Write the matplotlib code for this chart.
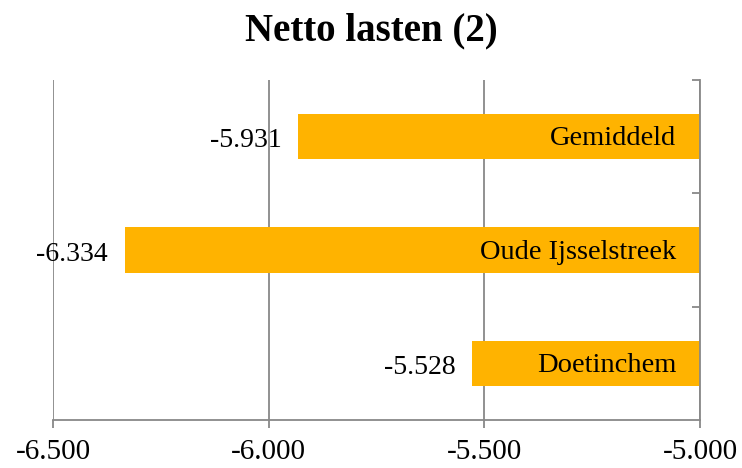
import matplotlib.pyplot as plt
import numpy as np

# data
categories = ["Gemiddeld", "Oude Ijsselstreek", "Doetinchem"]
values = [-5931, -6334, -5528]
value_labels = ["-5.931", "-6.334", "-5.528"]
xticks = [-6500, -6000, -5500, -5000]
xtick_labels = ["-6.500", "-6.000", "-5.500", "-5.000"]

base = -5000
bar_color = "#FFB300"
grey = "#888888"

plt.rcParams["font.family"] = ["Liberation Serif", "DejaVu Serif"]

fig = plt.figure(figsize=(7.42, 4.68), dpi=100)
ax = fig.add_axes([53 / 742, 1 - 420 / 468, 647 / 742, 340 / 468])

y = np.arange(len(categories))[::-1]
vals = np.array(values)
ax.barh(y, vals - base, left=base, height=0.4, color=bar_color, zorder=2)

for yi, v, lab, cat in zip(y, vals, value_labels, categories):
    ax.annotate(lab, (v, yi), xytext=(-12, -3), textcoords="offset points",
                ha="right", va="center", fontsize=20, zorder=3)
    ax.annotate(cat, (base, yi), xytext=(-17, -1.5), textcoords="offset points",
                ha="right", va="center", fontsize=20.5, zorder=3)

ax.set_xlim(-6500, -5000)
ax.set_ylim(-0.5, 2.5)
ax.set_xticks(xticks)
ax.set_xticklabels(xtick_labels, fontsize=21)
ax.grid(axis="x", color=grey, linewidth=1.3, zorder=0)
ax.set_axisbelow(True)

ax.yaxis.tick_right()
ax.set_yticks([0.5, 1.5, 2.5])
ax.set_yticklabels([])
ax.tick_params(axis="y", direction="in", length=6, color=grey, width=1.3)
ax.tick_params(axis="x", direction="out", length=6, color=grey, width=1.3, pad=8)

for s in ["left", "top"]:
    ax.spines[s].set_visible(False)
for s in ["right", "bottom"]:
    ax.spines[s].set_color(grey)
    ax.spines[s].set_linewidth(1.3)

fig.text(0.5, 1 - 31 / 468, "Netto lasten (2)", ha="center", va="center",
         fontsize=28, fontweight="bold")

fig.savefig("out.png", dpi=100)
